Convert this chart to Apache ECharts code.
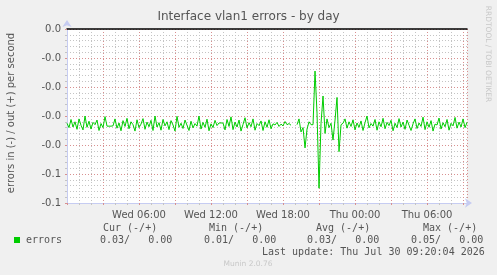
<!DOCTYPE html>
<html>
<head>
<meta charset="utf-8">
<script src="https://cdn.jsdelivr.net/npm/echarts@6/dist/echarts.min.js"></script>
<style>
  html, body { margin: 0; padding: 0; background: #f0f0f0; }
  #chart { width: 497px; height: 275px; }
</style>
</head>
<body>
<div id="chart"></div>
<script type="text/javascript">
// errors in (drawn below zero), one sample every 10 minutes from Wed 00:00
var sampleHours = 1 / 6;
var errorsIn = [
  0.0325, 0.0340, 0.0312, 0.0338, 0.0320, 0.0346, 0.0310, 0.0332, 0.0348, 0.0300,
  0.0339, 0.0318, 0.0345, 0.0322, 0.0330, 0.0314, 0.0350, 0.0326, 0.0340, 0.0302,
  0.0335, 0.0335, 0.0335, 0.0334, 0.0310, 0.0342, 0.0324, 0.0351, 0.0316, 0.0336,
  0.0308, 0.0344, 0.0320, 0.0330, 0.0352, 0.0313, 0.0340, 0.0328, 0.0309, 0.0346,
  0.0321, 0.0337, 0.0315, 0.0350, 0.0300, 0.0338, 0.0323, 0.0349, 0.0312, 0.0334,
  0.0320, 0.0347, 0.0316, 0.0331, 0.0352, 0.0301, 0.0339, 0.0325, 0.0343, 0.0314,
  0.0332, 0.0350, 0.0318, 0.0341, 0.0326, 0.0335, 0.0300, 0.0345, 0.0322, 0.0339,
  0.0311, 0.0351, 0.0327, 0.0340, 0.0315, 0.0333, 0.0324, 0.0324, 0.0324, 0.0348,
  0.0312, 0.0336, 0.0303, 0.0347, 0.0321, 0.0338, 0.0314, 0.0352, 0.0329, 0.0306,
  0.0341, 0.0323, 0.0337, 0.0310, 0.0349, 0.0326, 0.0333, 0.0317, 0.0350, 0.0320,
  0.0339, 0.0313, 0.0344, 0.0327, 0.0331, 0.0322, 0.0336, 0.0328, 0.0334, 0.0319,
  0.0330, 0.0326, 0.0332, null, null,
  0.0330, 0.0310, 0.0355, 0.0340, 0.0410, 0.0345, 0.0320, 0.0330, 0.0330, 0.0145,
  0.0290, 0.0549, 0.0325, 0.0231, 0.0360, 0.0310, 0.0340, 0.0325, 0.0383, 0.0314,
  0.0236, 0.0423, 0.0330, 0.0325, 0.0310,
  0.0342, 0.0320, 0.0336, 0.0313, 0.0348, 0.0324, 0.0339, 0.0317, 0.0350, 0.0323,
  0.0300, 0.0341, 0.0326, 0.0335, 0.0312, 0.0349, 0.0320, 0.0337, 0.0308, 0.0344,
  0.0322, 0.0333, 0.0315, 0.0351, 0.0325, 0.0340, 0.0309, 0.0338, 0.0321, 0.0346,
  0.0314, 0.0332, 0.0350, 0.0327, 0.0310, 0.0343, 0.0324, 0.0336, 0.0304, 0.0347,
  0.0320, 0.0339, 0.0316, 0.0352, 0.0328, 0.0331, 0.0307, 0.0345, 0.0323, 0.0337,
  0.0312, 0.0349, 0.0325, 0.0334, 0.0305, 0.0342, 0.0321, 0.0338, 0.0310, 0.0340,
  0.0322
];

var xTickHours = [6, 12, 18, 24, 30];
var xTickLabels = ['Wed 06:00', 'Wed 12:00', 'Wed 18:00', 'Thu 00:00', 'Thu 06:00'];
var yTickValues = [0, -0.01, -0.02, -0.03, -0.04, -0.05, -0.06];
var yTickLabels = ['0.0', '-0.0', '-0.0', '-0.0', '-0.0', '-0.1', '-0.1'];

var legendHeaders = ['Cur (-/+)', 'Min (-/+)', 'Avg (-/+)', 'Max (-/+)'];
var legendValues = ['0.03/   0.00', '0.01/   0.00', '0.03/   0.00', '0.05/   0.00'];

// build [hour, -value] points
var points = [];
for (var i = 0; i < errorsIn.length; i++) {
  points.push([i * sampleHours, errorsIn[i] === null ? null : -errorsIn[i]]);
}

var axisBlue = '#c6ccf2';
var majorGrid = '#d89090';
var minorGrid = '#c4c4c4';
var mono = '"DejaVu Sans Mono", monospace';
var sans = '"DejaVu Sans", sans-serif';

var myChart = echarts.init(document.getElementById('chart'), null, {renderer: 'canvas'});

var headerX = [103, 209, 316, 423];
var valueX = [100, 204, 307, 411];
var graphics = [
  {type: 'text', left: 'center', top: 11, style: {text: 'Interface vlan1 errors - by day', font: '12px ' + sans, fill: '#555'}},
  {type: 'text', x: 11, y: 113, rotation: Math.PI / 2, style: {text: 'errors in (-) / out (+) per second', font: '10px ' + sans, fill: '#555', align: 'center', verticalAlign: 'middle'}},
  {type: 'text', x: 488, y: 54, rotation: -Math.PI / 2, style: {text: 'RRDTOOL / TOBI OETIKER', font: '7.5px ' + sans, fill: '#c8c8c8', align: 'center', verticalAlign: 'middle'}},
  {type: 'rect', shape: {x: 14, y: 237, width: 6, height: 6}, style: {fill: '#00cc00'}},
  {type: 'text', x: 26, y: 240, style: {text: 'errors', font: '10px ' + mono, fill: '#555', verticalAlign: 'middle'}},
  {type: 'text', x: 262, y: 252, style: {text: 'Last update: Thu Jul 30 09:20:04 2026', font: '10px ' + mono, fill: '#555', verticalAlign: 'middle'}},
  {type: 'text', x: 248, y: 264, style: {text: 'Munin 2.0.76', font: '7.5px ' + sans, fill: '#c8c8c8', align: 'center', verticalAlign: 'middle'}}
];
for (var k = 0; k < legendHeaders.length; k++) {
  graphics.push({type: 'text', x: headerX[k], y: 228, style: {text: legendHeaders[k], font: '10px ' + mono, fill: '#555', verticalAlign: 'middle'}});
  graphics.push({type: 'text', x: valueX[k], y: 240, style: {text: legendValues[k], font: '10px ' + mono, fill: '#555', verticalAlign: 'middle'}});
}

var option = {
  backgroundColor: '#f0f0f0',
  animation: false,
  grid: {left: 67, top: 29, width: 400, height: 174, show: true, backgroundColor: '#ffffff', borderWidth: 0},
  xAxis: [
    {
      type: 'value',
      min: 0,
      max: 33.33,
      interval: 3,
      position: 'bottom',
      axisLine: {show: true, onZero: false, lineStyle: {color: axisBlue, width: 1}, symbol: ['none', 'arrow'], symbolSize: [7, 7], symbolOffset: [0, 5]},
      axisTick: {show: true, length: 2, lineStyle: {color: majorGrid}},
      minorTick: {show: true, splitNumber: 3, length: 2, lineStyle: {color: minorGrid}},
      axisLabel: {
        color: '#555',
        fontFamily: 'DejaVu Sans',
        fontSize: 10,
        margin: 7,
        showMaxLabel: false,
        formatter: function(v) {
          var idx = xTickHours.indexOf(Math.round(v * 100) / 100);
          return idx >= 0 ? xTickLabels[idx] : '';
        }
      },
      splitLine: {show: true, lineStyle: {color: majorGrid, type: [1, 2]}},
      minorSplitLine: {show: true, lineStyle: {color: minorGrid, type: [1, 2]}}
    },
    {
      type: 'value',
      min: 0,
      max: 33.33,
      position: 'top',
      axisLine: {show: true, onZero: false, lineStyle: {color: '#000', width: 1.5}},
      axisTick: {show: false},
      axisLabel: {show: false},
      splitLine: {show: false}
    }
  ],
  yAxis: {
    type: 'value',
    min: -0.06,
    max: 0,
    interval: 0.01,
    axisLine: {show: true, onZero: false, lineStyle: {color: axisBlue, width: 1}, symbol: ['none', 'arrow'], symbolSize: [7, 7], symbolOffset: [0, 9]},
    axisTick: {show: true, length: 2, lineStyle: {color: majorGrid}},
    minorTick: {show: true, splitNumber: 5, length: 2, lineStyle: {color: minorGrid}},
    axisLabel: {
      color: '#555',
      fontFamily: 'DejaVu Sans',
      fontSize: 10,
      margin: 6,
      formatter: function(v) {
        var idx = Math.round(-v * 100);
        return yTickLabels[idx] !== undefined ? yTickLabels[idx] : '';
      }
    },
    splitLine: {show: true, lineStyle: {color: majorGrid, type: [1, 2]}},
    minorSplitLine: {show: true, lineStyle: {color: minorGrid, type: [1, 2]}}
  },
  graphic: graphics,
  series: [
    {
      name: 'errors',
      type: 'line',
      xAxisIndex: 0,
      data: points,
      showSymbol: false,
      connectNulls: false,
      lineStyle: {color: '#00cc00', width: 1},
      itemStyle: {color: '#00cc00'}
    }
  ]
};
myChart.setOption(option);
</script>
</body>
</html>
